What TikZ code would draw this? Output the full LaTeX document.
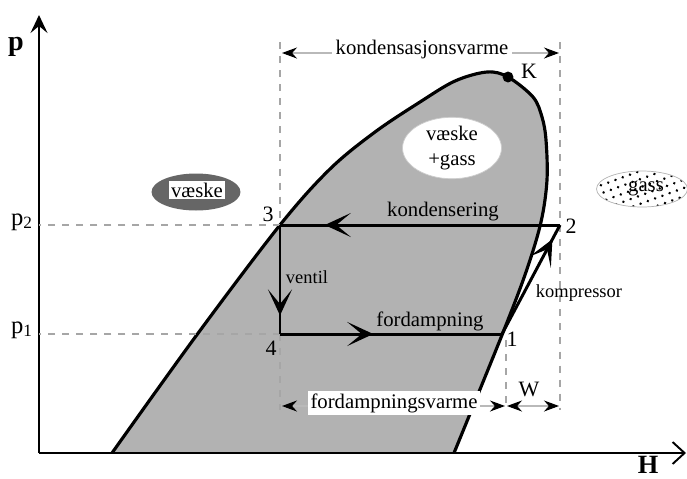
\documentclass[tikz,border=0pt]{standalone}
\usepackage{fontspec}
\setmainfont{Liberation Serif}
\usetikzlibrary{arrows.meta,decorations.markings,patterns.meta,shapes.geometric}

\begin{document}
\begin{tikzpicture}[
  x=0.02cm, y=-0.02cm,
  font=\fontsize{11.8}{12}\selectfont,
  yaxis/.style={line width=1.1pt, -{Stealth[length=3.6mm,width=3.4mm,inset=1.4mm]}},
  xaxis/.style={line width=1.1pt, -{Straight Barb[length=2.4mm,width=4.4mm,line width=1.1pt]}},
  helpline/.style={gray!70, line width=0.6pt, dash pattern=on 4pt off 4pt},
  dimline/.style={gray!55, line width=0.6pt, {Stealth[length=3mm,width=2.2mm,black]}-{Stealth[length=3mm,width=2.2mm,black]}},
  domeline/.style={line width=1.8pt, line join=round},
  cycleline/.style={line width=1.7pt, line join=miter},
  midarrow/.style={postaction={decorate}, decoration={markings,
    mark=at position #1 with {\arrow{Stealth[length=5.2mm,width=4.8mm,inset=2.9mm]}}}},
  num/.style={font=\fontsize{12.5}{13}\selectfont, inner sep=1pt},
  small/.style={font=\fontsize{10.5}{11}\selectfont, inner sep=1pt},
  plev/.style={font=\fontsize{14}{14}\selectfont, anchor=base east, inner sep=1pt}
]
\useasboundingbox (0,0) rectangle (687,478);

\coordinate (o) at (39,453);
\coordinate (ytop) at (39,15);
\coordinate (xend) at (686,453);
\coordinate (p1) at (502,334);
\coordinate (p2) at (560,225);
\coordinate (p3) at (280,225);
\coordinate (p4) at (280,334);

\path[save path=\domepath] plot[smooth, tension=0.55] coordinates {
  (112,453) (196,336) (280,225) (330,169) (375,132) (420,102) (455,81) (487,72)
  (508,77) (533,97) (542,117) (546,140) (547,180) (541,222) (526,272) (502,335) (454,453)};
\fill[black!30, use path=\domepath];
\draw[domeline, use path=\domepath];

\draw[yaxis] (o) -- (ytop);
\draw[xaxis] (o) -- (xend);
\node[font=\bfseries\fontsize{16}{16}\selectfont] (plab) at (16,47) {p};
\node[font=\bfseries\fontsize{15}{15}\selectfont] (hlab) at (648,465) {H};

\coordinate (d3top) at (280,42);
\coordinate (d3bot) at (280,410);
\coordinate (d2top) at (560,42);
\coordinate (d2bot) at (560,410);
\coordinate (d1top) at (506,340);
\coordinate (d1bot) at (506,410);
\draw[helpline] (p3) -- (p3 -| o);
\draw[helpline] (p4) -- (p4 -| o);
\draw[helpline] (d3top) -- (p3);
\draw[helpline] (p4) -- (d3bot);
\draw[helpline] (d2top) -- (p2);
\draw[helpline] (p2) -- (d2bot);
\draw[helpline] (d1top) -- (d1bot);
\node[plev] (p2lab) at (35,225) {p\textsubscript{2}};
\node[plev] (p1lab) at (35,333) {p\textsubscript{1}};

\coordinate (kl) at (282,53);
\coordinate (kr) at (559,53);
\draw[dimline] (kl) -- (kr);
\node[fill=white, inner sep=2pt] (kond) at (422,50) {kondensasjonsvarme};
\coordinate (fl) at (282,406);
\coordinate (fr) at (505,406);
\coordinate (wl) at (507,406);
\coordinate (wr) at (559,406);
\draw[dimline] (fl) -- (fr);
\draw[dimline] (wl) -- (wr);
\node[fill=white, inner sep=1.5pt] (ford) at (394,403) {fordampningsvarme};
\node[num] (wlab) at (529,389) {W};

\node[circle, fill, inner sep=2.2pt] (kdot) at (508,77) {};
\node[num] (klab) at (529,71) {K};

\node[ellipse, fill=black!60, minimum width=1.78cm, minimum height=0.74cm] (vell) at (196,192) {};
\node[fill=white, inner sep=1pt] (vaeske) at (197,190) {væske};
\node[ellipse, fill=white, draw=gray!40, thin, minimum width=1.98cm, minimum height=1.02cm,
  align=center, inner sep=0pt, font=\fontsize{11.8}{14}\selectfont] (vg) at (452,148) {væske\\+gass};
\node[ellipse, draw=gray!60, thin, pattern={Dots[distance=4.4pt, radius=0.8pt, angle=20]},
  minimum width=1.82cm, minimum height=0.72cm] (gell) at (642,189) {};
\node[inner sep=0pt] (gass) at (646,188) {gass};

\draw[cycleline, midarrow=0.83] (p3) -- (p4);
\draw[cycleline, midarrow=0.42] (p4) -- (p1);
\draw[cycleline, midarrow=0.87] (p1) -- (p2);
\draw[cycleline, midarrow=0.84] (p2) -- (p3);

\node[num] (n3) at (268,214) {3};
\node[num] (n2) at (571,226) {2};
\node[num] (n1) at (512,339) {1};
\node[num] (n4) at (271,348) {4};
\node (kondens) at (443,212) {kondensering};
\node (fordamp) at (430,321) {fordampning};
\node[small] (ventil) at (307,277) {ventil};
\node[small] (kompr) at (579,293) {kompressor};
\end{tikzpicture}
\end{document}
